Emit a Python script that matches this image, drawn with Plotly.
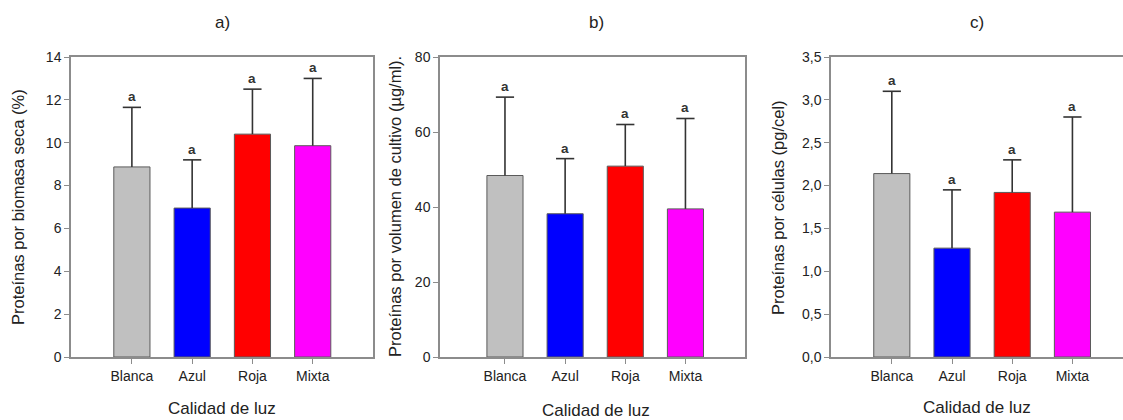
import plotly.graph_objects as go

# ---------------- data ----------------
categories = ["Blanca", "Azul", "Roja", "Mixta"]

a_values = [8.87, 6.95, 10.40, 9.86]
a_sd = [2.78, 2.25, 2.10, 3.14]

b_values = [48.4, 38.2, 50.9, 39.5]
b_sd = [20.9, 14.7, 11.1, 24.1]

c_values = [2.14, 1.27, 1.92, 1.69]
c_sd = [0.96, 0.68, 0.38, 1.11]

letters = ["a", "a", "a", "a"]
panel_titles = ["a)", "b)", "c)"]
y_titles = [
    "Proteínas por biomasa seca (%)",
    "Proteínas por volumen de cultivo (µg/ml).",
    "Proteínas por células (pg/cel)",
]
x_title = "Calidad de luz"

# ---------------- style ----------------
bar_colors = ["#C0C0C0", "#0000FF", "#FF0000", "#FF00FF"]
W, H = 1123, 420
FONT = "Liberation Sans, Arial, sans-serif"
AXIS_COLOR = "#8c8c8c"
ERR_COLOR = "#333333"

panels = [
    dict(vals=a_values, sd=a_sd, xdom=[71 / W, 373 / W], xr=[-1.01, 4.0],
         yr=[0, 14], dtick=2, fmt="d", ymirror=True, tx=222, yt_x=18, xt_y=408),
    dict(vals=b_values, sd=b_sd, xdom=[440 / W, 745 / W], xr=[-1.08, 3.99],
         yr=[0, 80], dtick=20, fmt="d", ymirror=True, tx=596, yt_x=395, xt_y=410),
    dict(vals=c_values, sd=c_sd, xdom=[831 / W, 1.0], xr=[-1.01, 3.84],
         yr=[0, 3.5], dtick=0.5, fmt=".1f", ymirror=False, tx=977, yt_x=778, xt_y=407),
]
ydom = [1 - 357 / H, 1 - 57 / H]

fig = go.Figure()
annotations = []
for i, p in enumerate(panels):
    n = "" if i == 0 else str(i + 1)
    xa, ya = "x" + n, "y" + n
    tops = [v + s for v, s in zip(p["vals"], p["sd"])]
    # bars with upper error stem (no caps)
    fig.add_trace(go.Bar(
        x=categories, y=p["vals"], xaxis=xa, yaxis=ya,
        width=0.6,
        marker=dict(color=bar_colors, line=dict(color="#5a5a5a", width=1)),
        error_y=dict(type="data", symmetric=False, array=p["sd"],
                     arrayminus=[0] * len(p["sd"]),
                     color=ERR_COLOR, thickness=1.6, width=0),
        showlegend=False, hoverinfo="skip",
    ))
    # error caps at the top only
    fig.add_trace(go.Scatter(
        x=categories, y=tops, xaxis=xa, yaxis=ya, mode="markers",
        marker=dict(symbol="line-ew", size=13, color=ERR_COLOR,
                    line=dict(color=ERR_COLOR, width=1.6)),
        cliponaxis=False, showlegend=False, hoverinfo="skip",
    ))
    fig.layout["xaxis" + n] = dict(
        domain=p["xdom"], anchor=ya, type="category", range=p["xr"],
        showline=True, linecolor=AXIS_COLOR, linewidth=1.5, mirror=True,
        ticks="outside", ticklen=5, tickcolor=AXIS_COLOR, tickwidth=1,
        tickfont=dict(family=FONT, size=14, color="#222222"),
        showgrid=False, zeroline=False, fixedrange=True, automargin=False,
    )
    fig.layout["yaxis" + n] = dict(
        domain=ydom, anchor=xa, range=p["yr"], dtick=p["dtick"], tick0=0,
        tickformat=p["fmt"],
        showline=True, linecolor=AXIS_COLOR, linewidth=1.5, mirror=p["ymirror"],
        ticks="outside", ticklen=5, tickcolor=AXIS_COLOR, tickwidth=1,
        tickfont=dict(family=FONT, size=14, color="#222222"),
        showgrid=False, zeroline=False, fixedrange=True, automargin=False,
    )
    # significance letters
    for c, t, L in zip(categories, tops, letters):
        annotations.append(dict(
            x=c, y=t, xref=xa, yref=ya, text="<b>" + L + "</b>",
            showarrow=False, yanchor="bottom", yshift=1,
            font=dict(family=FONT, size=13.5, color="#333333"),
        ))
    # panel title
    annotations.append(dict(
        x=p["tx"] / W, y=1 - 22 / H, xref="paper", yref="paper",
        text=panel_titles[i], showarrow=False, xanchor="center", yanchor="middle",
        font=dict(family=FONT, size=17, color="#222222"),
    ))
    # y title
    annotations.append(dict(
        x=p["yt_x"] / W, y=1 - 207 / H, xref="paper", yref="paper",
        text=y_titles[i], textangle=-90, showarrow=False,
        xanchor="center", yanchor="middle",
        font=dict(family=FONT, size=16.5, color="#222222"),
    ))
    # x title
    annotations.append(dict(
        x=p["tx"] / W, y=1 - p["xt_y"] / H, xref="paper", yref="paper",
        text=x_title, showarrow=False, xanchor="center", yanchor="middle",
        font=dict(family=FONT, size=17, color="#222222"),
    ))

fig.update_layout(
    width=W, height=H, autosize=False,
    margin=dict(l=0, r=0, t=0, b=0, pad=0, autoexpand=False),
    paper_bgcolor="white", plot_bgcolor="white",
    separators=",.",
    annotations=annotations,
    bargap=0.4,
)

fig.write_html(
    "out.html",
    config={"displayModeBar": False, "responsive": False},
    post_script="document.body.style.margin='0';document.body.style.overflow='hidden';",
)
